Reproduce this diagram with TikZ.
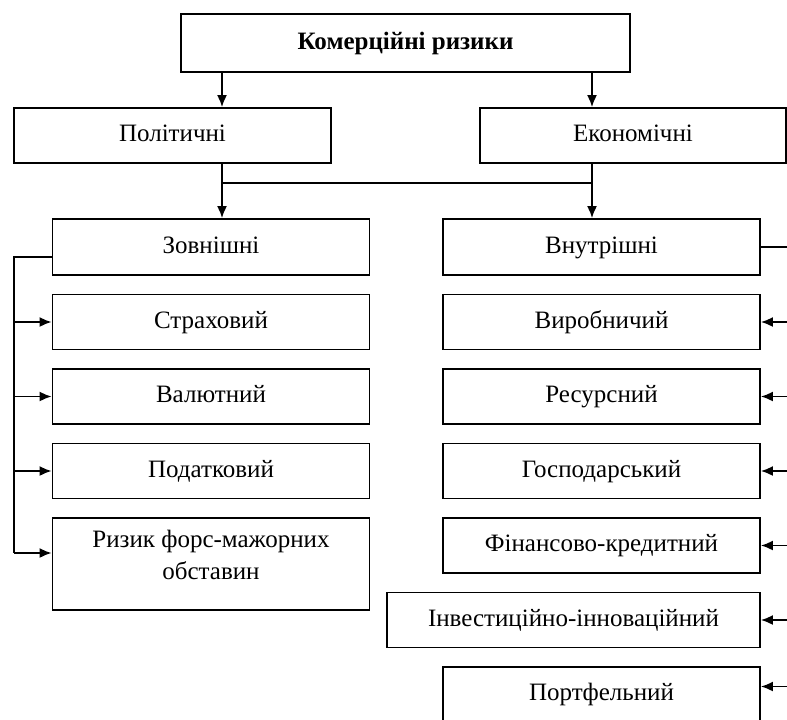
\documentclass[tikz,border=0pt]{standalone}
\usepackage{fontspec}
\setmainfont{Liberation Serif}
\usetikzlibrary{arrows.meta,positioning}

\begin{document}
\begin{tikzpicture}[x=0.5pt, y=-0.5pt, node distance=8.85pt, line width=0.9pt, font=\fontsize{12.5}{16}\selectfont]
\tikzstyle{block}=[draw, align=center, inner sep=2pt, minimum width=158.5pt, minimum height=27.5pt]
\tikzstyle{box}=[block, text height=8.5pt, text depth=2.5pt]
\tikzstyle{arr}=[-{Latex[length=6pt,width=5pt]}]
\useasboundingbox (0,0) rectangle (787,719);
\clip (0,0) rectangle (787,719);
\node[box, minimum width=224.5pt, minimum height=29pt, font=\fontsize{12.5}{16}\selectfont\bfseries] (kom) at (405.5,43) {Комерційні ризики};
\node[box] (pol) at (172.5,135.5) {Політичні};
\node[box, minimum width=153pt] (eko) at (633,135.5) {Економічні};
% external risks
\node[box, minimum height=28pt] (zov) at (211,247) {Зовнішні};
\node[box, below=of zov] (str) {Страховий};
\node[box, below=of str] (val) {Валютний};
\node[box, below=of val] (pod) {Податковий};
\node[block, below=of pod, minimum height=46pt, text height=25pt, text depth=10pt] (fm) {Ризик форс-мажорних\\обставин};
% internal risks
\node[box, minimum height=28pt] (vnu) at (601.5,247) {Внутрішні};
\node[box, below=of vnu] (vyr) {Виробничий};
\node[box, below=of vyr] (res) {Ресурсний};
\node[box, below=of res] (gos) {Господарський};
\node[box, below=of gos] (fin) {Фінансово-кредитний};
\node[box, minimum width=186.5pt, below=of fin.south east, anchor=north east] (inv) {Інвестиційно-інноваційний};
\node[box, below=of inv.south east, anchor=north east] (port) {Портфельний};
% top links
\coordinate (sL) at (222,183);
\coordinate (sR) at (592,183);
\draw[arr] (sL |- kom.south) -- (sL |- pol.north);
\draw[arr] (sR |- kom.south) -- (sR |- eko.north);
\draw (sL |- pol.south) -- (sL) -- (sR) -- (sR |- eko.south);
\draw[arr] (sL) -- (sL |- zov.north);
\draw[arr] (sR) -- (sR |- vnu.north);
% left bus
\coordinate (busL) at (14,257);
\coordinate (fmin) at ([yshift=5.5pt]fm.west);
\draw ([yshift=-5pt]zov.west) -- (busL) -- (busL |- fmin);
\foreach \n in {str,val,pod} \draw[arr] (busL |- \n.west) -- (\n.west);
\draw[arr] (busL |- fmin) -- (fmin);
% right bus
\coordinate (busR) at (795,249);
\coordinate (portin) at ([yshift=4pt]port.east);
\draw (vnu.east) -- (vnu.east -| busR) -- (busR |- portin);
\foreach \n in {vyr,res,gos,fin,inv} \draw[arr] (busR |- \n.east) -- (\n.east);
\draw[arr] (busR |- portin) -- (portin);
\end{tikzpicture}
\end{document}
